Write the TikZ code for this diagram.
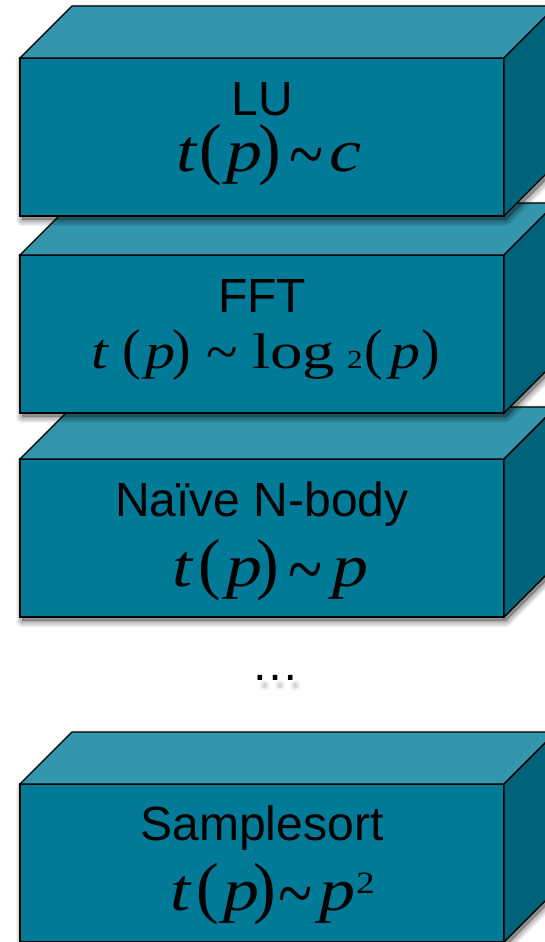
\documentclass[tikz,border=0pt]{standalone}
\usepackage{fontspec}
\usepackage{graphicx}
\setmainfont{Liberation Serif}
\newfontfamily\arialf{Liberation Sans}
\usetikzlibrary{calc}
\definecolor{frontc}{RGB}{0,122,150}
\definecolor{topc}{RGB}{51,150,172}
\definecolor{sidec}{RGB}{0,99,121}
\newcommand\gx[2]{\makebox[#1pt][l]{\scalebox{1.2}[1]{#2}}}
\newcommand\gp[2]{\makebox[#1pt][l]{#2}}
\newcommand\eqf{\fontsize{60}{62}\selectfont}
\newcommand\parf{\fontsize{68}{70}\selectfont}
\newcommand\mytil{\raisebox{-9pt}{\scalebox{1.05}[1.3]{\fontsize{60}{62}\selectfont\textasciitilde}}}
\newcommand\eqs{\fontsize{50}{52}\selectfont}
\newcommand\pars{\fontsize{56}{60}\selectfont}
\newcommand\tils{\fontsize{58}{60}\selectfont}
\tikzset{
  frontface/.style={draw=black, line width=1.4pt, fill=frontc, minimum width=484pt,
    minimum height=158pt, inner sep=0pt, outer sep=0pt, anchor=north west},
  facetop/.style={draw=black, line width=1.4pt, fill=topc, line join=miter},
  faceside/.style={draw=black, line width=1.4pt, fill=sidec, line join=miter},
  titletext/.style={font=\arialf\fontsize{48}{50}\selectfont, anchor=base, inner sep=0pt},
  eqtext/.style={anchor=base west, inner sep=0pt},
}
\newcommand\slab[2]{%
  \begin{scope}[shift={(2,4)}]
    \fill[black,opacity=.28] (20,#2+158) -- (20,#2) -- (72,#2-52) -- (556,#2-52) -- (556,#2+106) -- (504,#2+158) -- cycle;
    \foreach \w in {2,4,...,12}
      \draw[black,opacity=.05,line width=\w pt,line join=round] (20,#2+158) -- (20,#2) -- (72,#2-52) -- (556,#2-52) -- (556,#2+106) -- (504,#2+158) -- cycle;
  \end{scope}
  \node[frontface] (#1) at (20,#2) {};
  \path[facetop] (#1.north west) -- ++(52,-52) -- ($(#1.north east)+(52,-52)$) -- (#1.north east) -- cycle;
  \path[faceside] (#1.north east) -- ++(52,-52) -- ($(#1.south east)+(52,-52)$) -- (#1.south east) -- cycle;
}
\begin{document}
\begin{tikzpicture}[x=1pt,y=-1pt]
\useasboundingbox (0,0) rectangle (545,942);
\fill[white] (0,0) rectangle (545,942);
\clip (0,0) rectangle (545,942);

% Naive N-body
\slab{nbody}{459}
\node[titletext] (nbody-t) at (262,516) {Naïve N-body};
\node[eqtext] (nbody-e) at (172,586) {\gx{26.5}{\eqf\itshape t}\gp{27.5}{\parf(}\gx{30}{\eqf\itshape p}\gp{32}{\parf)}\gp{44}{\mytil}\gx{40}{\eqf\itshape p}};

% FFT
\slab{fft}{255}
\node[titletext] (fft-t) at (262,312) {FFT};
\node[eqtext] (fft-e) at (91,368) {\gx{31}{\eqs\itshape t}\gp{23}{\pars(}\gx{27}{\eqs\itshape p}\gp{34}{\pars)}\gp{46}{\raisebox{-3pt}{\tils\textasciitilde}}\gx{95}{\scalebox{1.08}[1]{\eqs log}}\gx{17}{\fontsize{26}{28}\selectfont 2}\gp{26}{\pars(}\gx{31}{\eqs\itshape p}\gp{30}{\pars)}};

% LU
\slab{lu}{58}
\node[titletext] (lu-t) at (262,115) {LU};
\node[eqtext] (lu-e) at (176,171) {\gx{23.5}{\eqf\itshape t}\gp{26.5}{\parf(}\gx{32.5}{\eqf\itshape p}\gp{31}{\parf)}\gp{39.5}{\mytil}\gx{40}{\eqf\itshape c}};

% ellipsis
\foreach \dx/\dy in {3/6,5/6,7/6,3/8,5/8,7/8,3/10,5/10,7/10}
  \node[titletext, text=black, opacity=.03] at (275.5+\dx,680+\dy) {…};
\node[titletext] (dots) at (275.5,680) {…};

% Samplesort
\slab{ssort}{784}
\node[titletext] (ssort-t) at (262,840) {Samplesort};
\node[eqtext] (ssort-e) at (170,910) {\gx{26.5}{\eqf\itshape t}\gp{26.5}{\parf(}\gx{30}{\eqf\itshape p}\gp{25}{\parf)}\gp{41}{\mytil}\gx{37}{\eqf\itshape p}\raisebox{17pt}{\gx{20}{\fontsize{31}{33}\selectfont 2}}};
\end{tikzpicture}
\end{document}
